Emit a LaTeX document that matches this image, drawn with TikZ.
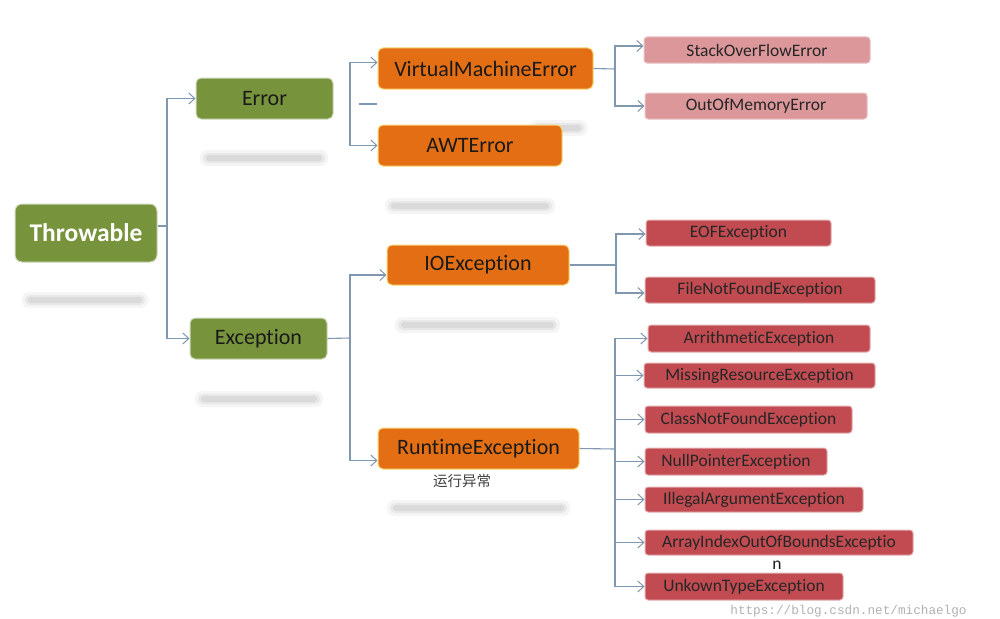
\documentclass[tikz,border=0pt]{standalone}
\usepackage{fontspec}
\setmainfont{Carlito}[Ligatures=NoCommon]
\newfontfamily\cjk{Noto Sans CJK SC}
\newfontfamily\wmfont{Liberation Mono}
\usetikzlibrary{arrows.meta}
\definecolor{grn}{HTML}{77933C}
\definecolor{org}{HTML}{E46E14}
\definecolor{pnk}{HTML}{DC979B}
\definecolor{rd}{HTML}{C24B51}
\definecolor{ln}{HTML}{7F97AF}
\definecolor{txt}{HTML}{1A1A1A}
\newcommand\ghostbar[3]{%
  \fill[black, opacity=0.04, rounded corners=7pt] (#1,#3-8) rectangle (#2,#3+8);
  \fill[black, opacity=0.05, rounded corners=5pt] (#1+3,#3-5) rectangle (#2-3,#3+5);
  \fill[black, opacity=0.06, rounded corners=3pt] (#1+6,#3-3) rectangle (#2-6,#3+3);
}
\begin{document}
\begin{tikzpicture}[x=1pt,y=-1pt,
  box/.style={rounded corners=5pt, inner sep=0pt, align=center, text=txt},
  gbox/.style={box, fill=grn, draw=grn!35!white, line width=1pt, font=\fontsize{22}{26}\selectfont},
  obox/.style={box, fill=org, draw=org!50!yellow!55!white, line width=1pt, font=\fontsize{22}{26}\selectfont},
  pbox/.style={box, rounded corners=3pt, fill=pnk, draw=pnk!60!white, line width=1pt, font=\fontsize{17.5}{20}\selectfont, text=black!85},
  rbox/.style={pbox, fill=rd, draw=rd!45!white},
  conn/.style={draw=ln, line width=1.1pt},
  arr/.style={conn, -{Straight Barb[length=6pt,width=11pt,line width=1pt]}},
  ]
\useasboundingbox (0,0) rectangle (1000,618);
\fill[white] (0,0) rectangle (1000,618);

% blurred reflections
\ghostbar{22}{148}{300}
\ghostbar{200}{328}{158}
\ghostbar{195}{323}{399}
\ghostbar{385}{555}{206}
\ghostbar{530}{587}{128}
\ghostbar{395}{560}{325}
\ghostbar{387}{570}{508}

% nodes
\node[gbox, rounded corners=7pt, minimum width=142pt, minimum height=58pt, text=white, font=\fontsize{25.5}{30}\selectfont\bfseries] (thr) at (86,233) {Throwable};
\node[gbox, minimum width=137pt, minimum height=41pt] (err) at (264.5,98.5) {Error};
\node[gbox, minimum width=137pt, minimum height=41pt] (exc) at (258.5,338.5) {Exception};

\node[obox, minimum width=215pt, minimum height=41pt] (vme) at (485.5,68.5) {VirtualMachineError};
\node[obox, minimum width=184pt, minimum height=41pt] (awt) at (470,145.5) {AWTError};
\node[obox, minimum width=182pt, minimum height=40pt] (ioe) at (478,265) {IOException};
\node[obox, minimum width=201pt, minimum height=41pt] (rte) at (478.5,448.5) {RuntimeException};

\node[pbox, minimum width=226pt, minimum height=26pt] (sof) at (757,50) {StackOverFlowError};
\node[pbox, minimum width=222pt, minimum height=26pt] (oom) at (756,106) {OutOfMemoryError};

\node[rbox, minimum width=185pt, minimum height=26pt] (eof) at (738.5,233) {EOFException};
\node[rbox, minimum width=230pt, minimum height=26pt] (fnf) at (760,290) {FileNotFoundException};
\node[rbox, minimum width=222pt, minimum height=27pt] (ari) at (759,338.5) {ArrithmeticException};
\node[rbox, minimum width=231pt, minimum height=25pt] (mre) at (759.5,375.5) {MissingResourceException};
\node[rbox, minimum width=207pt, minimum height=27pt] (cnf) at (748.5,419.5) {ClassNotFoundException};
\node[rbox, minimum width=182pt, minimum height=27pt] (npe) at (736,461.5) {NullPointerException};
\node[rbox, minimum width=218pt, minimum height=25pt] (iae) at (754,499.5) {IllegalArgumentException};
\node[rbox, minimum width=268pt, minimum height=25pt] (aio) at (779,542.5) {ArrayIndexOutOfBoundsExceptio};
\node[rbox, minimum width=198pt, minimum height=27pt] (ute) at (744,586.5) {UnkownTypeException};

\node[text=txt, font=\fontsize{17.5}{20}\selectfont, inner sep=0pt] (nlab) at (777,565) {n};
\node[text=black!75, font=\cjk\fontsize{14.5}{17}\selectfont, inner sep=0pt] (rtlab) at (462,481) {运行异常};
\node[text=black!30, font=\wmfont\fontsize{12.7}{15}\selectfont, inner sep=0pt] (wm) at (848.5,611) {https://blog.csdn.net/michaelgo};

% junction points
\coordinate (tj) at (167,226);
\coordinate (ej) at (350,104);
\coordinate (d1) at (359,104);
\coordinate (d2) at (377,104);
\coordinate (vj) at (615,69);
\coordinate (ij) at (616,265);
\coordinate (xj) at (350,338);
\coordinate (rj) at (615,449);

% connectors
\draw[conn] ([yshift=7pt]thr.east) -- (tj);
\draw[arr] (tj) |- (err.west);
\draw[arr] (tj) |- (exc.west);

\draw[arr] (ej) |- ([yshift=6pt]vme.west);
\draw[arr] (ej) |- (awt.west);
\draw[conn] (d1) -- (d2);

\draw[conn] (vme.east) -- (vj);
\draw[arr] (vj) |- ([yshift=4pt]sof.west);
\draw[arr] (vj) |- (oom.west);

\draw[conn] (ioe.east) -- (ij);
\draw[arr] (ij) |- ([yshift=-1pt]eof.west);
\draw[arr] (ij) |- ([yshift=-3pt]fnf.west);

\draw[conn] (exc.east) -- (xj);
\draw[arr] (xj) |- ([yshift=-10pt]ioe.west);
\draw[arr] (xj) |- ([yshift=-12pt]rte.west);

\draw[conn] (rte.east) -- (rj);
\foreach \t in {ari,mre,cnf,npe,iae,aio,ute}
  \draw[arr] (rj) |- (\t.west);
\end{tikzpicture}
\end{document}
